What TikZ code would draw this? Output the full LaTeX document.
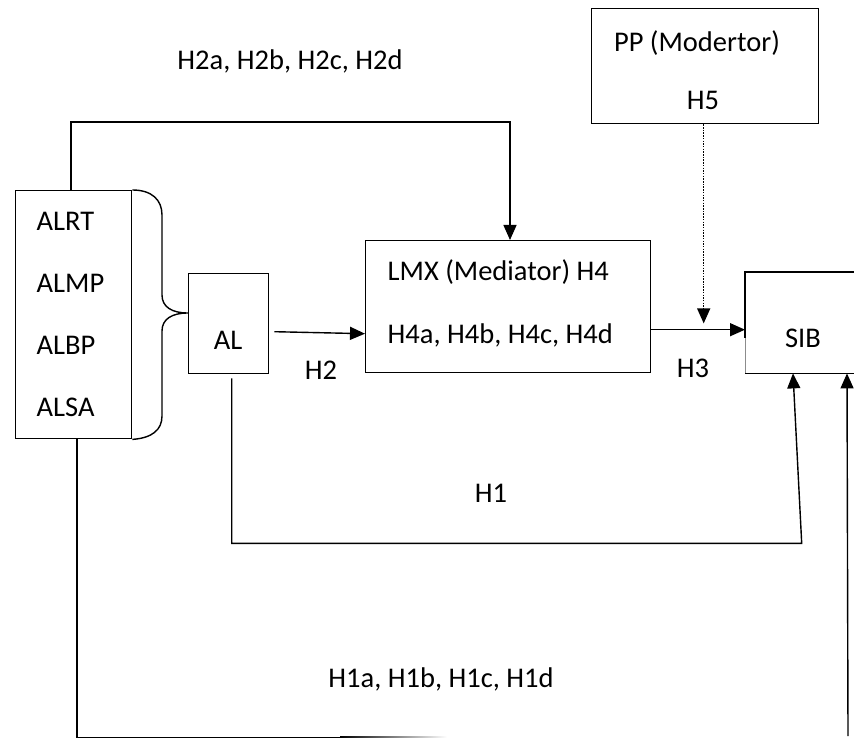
\documentclass[tikz,border=0pt]{standalone}
\usepackage{fontspec}
\setmainfont{Carlito}
\usetikzlibrary{arrows.meta,calc}
\begin{document}
\begin{tikzpicture}[x=1pt,y=-1pt,line width=1.4pt,
  font=\fontsize{28.5}{34}\selectfont,
  box/.style={draw,line width=1.4pt,inner sep=0pt,anchor=north west},
  txt/.style={inner sep=0pt},
  arr/.style={-{Triangle[length=15pt,width=13pt]}}]
\useasboundingbox (0,0) rectangle (854,738);

% boxes
\node[box,minimum width=116pt,minimum height=248pt] (src) at (15,190) {};
\node[box,minimum width=80pt,minimum height=100pt] (al) at (188,273) {};
\node[box,minimum width=285pt,minimum height=132pt] (lmx) at (365,240) {};
\node[box,minimum width=227pt,minimum height=115pt] (pp) at (591,8) {};
\node[inner sep=0pt,anchor=north west,minimum width=109pt,minimum height=100pt] (sib) at (745,272) {};
\draw (sib.north east) -- (sib.north west) -- ++(0,66);
\draw[black!45,line width=0.8pt] ($(sib.north west)+(0,66)$) -- (sib.south west);
\draw (sib.south west) -- (sib.south east);

% texts
\node[txt,anchor=base west] (t1) at (36,230) {ALRT};
\node[txt,anchor=base west] (t2) at (36,292) {ALMP};
\node[txt,anchor=base west] (t3) at (36,354) {ALBP};
\node[txt,anchor=base west] (t4) at (36,416) {ALSA};
\node[txt,anchor=base] (tal) at (228,349) {AL};
\node[txt,anchor=base west] (tl1) at (387,280) {LMX (Mediator) H4};
\node[txt,anchor=base west] (tl2) at (387,343) {H4a, H4b, H4c, H4d};
\node[txt,anchor=base] (tpp) at (697,52) {PP (Modertor)};
\node[txt,anchor=base] (th5) at (703,110) {H5};
\node[txt,anchor=base] (tsib) at (803,347) {SIB};
\node[txt,anchor=base] (th2abcd) at (290,70) {H2a, H2b, H2c, H2d};
\node[txt,anchor=base] (th2) at (321,379) {H2};
\node[txt,anchor=base] (th3) at (693,377) {H3};
\node[txt,anchor=base] (th1) at (491,502) {H1};
\node[txt,anchor=base] (th1abcd) at (441,687) {H1a, H1b, H1c, H1d};

% brace
\coordinate (tip) at (188,313);
\draw (src.north east) .. controls (152,190) and (162,200) .. (162,215)
  -- (162,295) .. controls (162,307) and (172,313) .. (tip)
  .. controls (172,313) and (162,319) .. (162,331)
  -- (162,416) .. controls (162,430) and (152,438) .. (src.south east);

% connectors
\draw[arr] ($(src.north west)+(56,0)$) -- ++(0,-68) -| ($(lmx.north west)+(145,0)$);
\draw[arr] ($(al.east)+(5,8)$) -- ($(lmx.west)+(0,27)$);
\draw[arr] ($(lmx.east)+(0,23)$) -- ($(sib.west)+(0,7)$);
\draw[arr,line width=1.5pt,dash pattern=on 1.5pt off 1.2pt] ($(pp.south)+(-1.5,0)$) -- ($(pp.south)+(-1.5,199)$);
\draw[arr] ($(al.south)+(3,4)$) -- ++(0,165) -- ++(570,0) -- ($(sib.south west)+(48,0)$);
\draw[line width=1.7pt] ($(src.south west)+(62,0)$) |- ++(263,298) coordinate (b1);
\shade[left color=black,right color=white] ($(b1)+(0,-0.85)$) rectangle ($(b1)+(107,0.85)$);
\coordinate (rb) at (848,736);
\draw[arr] (rb) -- ($(sib.south west)+(102,0)$);
\end{tikzpicture}
\end{document}
